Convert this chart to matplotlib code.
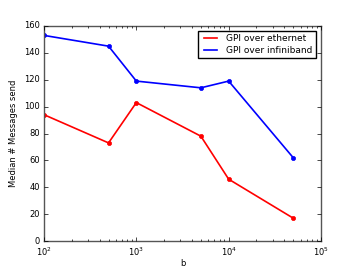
import matplotlib
matplotlib.use("Agg")
import matplotlib.pyplot as plt
from matplotlib.lines import Line2D

b = [100, 500, 1000, 5000, 10000, 50000]
ethernet = [94, 73, 103, 78, 46, 17]
infiniband = [153, 145, 119, 114, 119, 62]

plt.style.use('classic')
fig = plt.figure(figsize=(3.57, 2.68), dpi=100)
ax = fig.add_axes([44/357, 1-241/268, (321-44)/357, (241-26)/268])
ax.plot(b, ethernet, color='red', marker='o', markersize=3, markeredgecolor='red', linewidth=1.2)
ax.plot(b, infiniband, color='blue', marker='o', markersize=3, markeredgecolor='blue', linewidth=1.2)
ax.set_xscale('log')
ax.set_xlim(100, 100000)
ax.set_ylim(0, 160)
ax.set_yticks(range(0, 161, 20))
ax.tick_params(labelsize=6, length=3, pad=3)
ax.tick_params(which='minor', length=1.5)
ax.set_xlabel('b', fontsize=6, labelpad=1)
ax.set_ylabel('Median # Messages send', fontsize=6, labelpad=4)
for s in ax.spines.values():
    s.set_color('#555555')
handles = [Line2D([], [], color='red', linewidth=1.2), Line2D([], [], color='blue', linewidth=1.2)]
leg = ax.legend(handles, ['GPI over ethernet', 'GPI over infiniband'], loc='upper right',
                fontsize=6.5, handlelength=2, borderpad=0.4, labelspacing=0.3)
fig.savefig('out.png', dpi=100)
